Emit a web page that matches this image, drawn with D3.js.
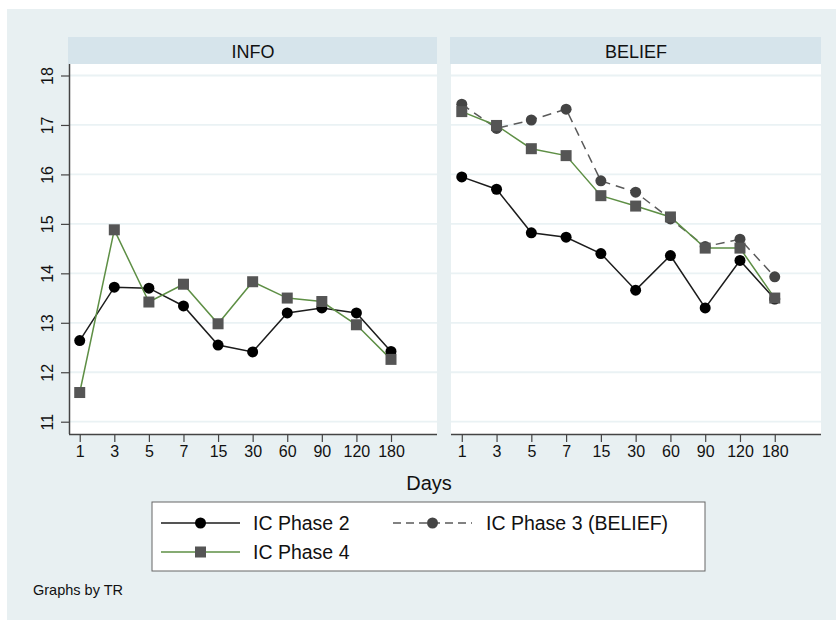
<!DOCTYPE html>
<html><head><meta charset="utf-8">
<script src="https://cdn.jsdelivr.net/npm/d3@7"></script>
<style>body{margin:0;background:#fff}svg{display:block;font-family:"Liberation Sans",Arial,sans-serif}</style>
</head><body><svg id="c" width="836" height="620"></svg>
<script>
const days = ["1","3","5","7","15","30","60","90","120","180"];
const yTicks = [11,12,13,14,15,16,17,18];
const panels = ["INFO","BELIEF"];
const info_phase2 = [12.64,13.72,13.70,13.34,12.55,12.41,13.20,13.30,13.20,12.42];
const info_phase4 = [11.59,14.88,13.42,13.78,12.98,13.83,13.50,13.43,12.96,12.26];
const belief_phase2 = [15.95,15.70,14.82,14.73,14.40,13.66,14.36,13.30,14.26,13.48];
const belief_phase3 = [17.42,16.93,17.10,17.32,15.87,15.64,15.10,14.54,14.69,13.93];
const belief_phase4 = [17.27,16.99,16.52,16.38,15.57,15.36,15.14,14.51,14.51,13.50];
const seriesNames = ["IC Phase 2","IC Phase 3 (BELIEF)","IC Phase 4"];

const svg = d3.select("#c");
svg.append("rect").attr("x",7).attr("y",9).attr("width",829).attr("height",611).attr("fill","#e8f0f2");

const y = d3.scaleLinear().domain([11,18]).range([421.7,75.5]);
const panelX = [[69,437],[451,821]];
const plotTop = 64, plotBottom = 434;

const styles = {
  p2:{line:"#1c1c1c",dash:null,marker:"circle",fill:"#000"},
  p3:{line:"#5a5a5a",dash:"9,6",marker:"circle",fill:"#444"},
  p4:{line:"#5e8f45",dash:null,marker:"square",fill:"#555"}
};
const panelSeries = [
  [["p2",info_phase2],["p4",info_phase4]],
  [["p2",belief_phase2],["p3",belief_phase3],["p4",belief_phase4]]
];

panels.forEach((name,pi)=>{
  const [x0,x1] = panelX[pi];
  const x = d3.scaleLinear().domain([-0.31,10.33]).range([x0,x1]);
  const g = svg.append("g");
  g.append("rect").attr("x",x0-1).attr("y",37).attr("width",x1-x0+1).attr("height",27).attr("fill","#d6e4eb");
  g.append("text").attr("x",(x0+x1)/2).attr("y",57.5).attr("text-anchor","middle").attr("font-size",18).attr("fill","#111").text(name);
  g.append("rect").attr("x",x0).attr("y",plotTop).attr("width",x1-x0).attr("height",plotBottom-plotTop).attr("fill","#fff");
  g.selectAll(".grid").data(yTicks).enter().append("line")
    .attr("x1",x0).attr("x2",x1).attr("y1",d=>y(d)).attr("y2",d=>y(d))
    .attr("stroke","#eaf2f4").attr("stroke-width",1.8);
  const xa = d3.axisBottom(x).tickValues(d3.range(10)).tickFormat(i=>days[i]).tickSize(8).tickPadding(4);
  const gx = g.append("g").attr("transform",`translate(0,${plotBottom})`).call(xa);
  gx.select(".domain").attr("d",`M${x0},0.5H${x1}`).attr("stroke","#444").attr("stroke-width",1.5);
  gx.selectAll(".tick line").attr("stroke","#444").attr("stroke-width",1.2);
  gx.selectAll(".tick text").attr("font-size",16).attr("fill","#111").attr("font-family","Liberation Sans, Arial, sans-serif");
  if(pi===0){
    const ya = d3.axisLeft(y).tickValues(yTicks).tickFormat(d3.format("d")).tickSize(8).tickPadding(4);
    const gy = g.append("g").attr("transform",`translate(${x0},0)`).call(ya);
    gy.select(".domain").attr("d",`M0.5,${plotTop}V${plotBottom}`).attr("stroke","#444").attr("stroke-width",1.5);
    gy.selectAll(".tick line").attr("stroke","#444").attr("stroke-width",1.2);
    gy.selectAll(".tick text").attr("font-size",16).attr("fill","#111").attr("font-family","Liberation Sans, Arial, sans-serif")
      .attr("text-anchor","middle").attr("x",null)
      .attr("transform","translate(-22,0) rotate(-90)").attr("dy","0.35em");
  }
  const line = d3.line().x((d,i)=>x(i)).y(d=>y(d));
  panelSeries[pi].forEach(([key,vals])=>{
    const st = styles[key];
    g.append("path").datum(vals).attr("d",line).attr("fill","none").attr("stroke",st.line)
      .attr("stroke-width",1.5).attr("stroke-dasharray",st.dash);
  });
  panelSeries[pi].forEach(([key,vals])=>{
    const st = styles[key];
    if(st.marker==="circle"){
      g.selectAll(null).data(vals).enter().append("circle").attr("cx",(d,i)=>x(i)).attr("cy",d=>y(d)).attr("r",5.5).attr("fill",st.fill);
    } else {
      g.selectAll(null).data(vals).enter().append("rect").attr("x",(d,i)=>x(i)-5.5).attr("y",d=>y(d)-5.5).attr("width",11).attr("height",11).attr("fill",st.fill);
    }
  });
});

svg.append("text").attr("x",429).attr("y",490).attr("text-anchor","middle").attr("font-size",20).attr("fill","#111").text("Days");

const lg = svg.append("g");
lg.append("rect").attr("x",152).attr("y",502).attr("width",553).attr("height",69).attr("fill","#fff").attr("stroke","#666").attr("stroke-width",1);
const items = [
  {key:"p2",x:161,y:523,tx:253},
  {key:"p3",x:393,y:523,tx:486},
  {key:"p4",x:161,y:552,tx:253}
];
const keyToName = {p2:seriesNames[0],p3:seriesNames[1],p4:seriesNames[2]};
items.forEach(it=>{
  const st = styles[it.key];
  lg.append("line").attr("x1",it.x).attr("x2",it.x+79).attr("y1",it.y).attr("y2",it.y).attr("stroke",st.line).attr("stroke-width",1.5).attr("stroke-dasharray",st.dash?"8,5":null);
  const cx = it.x+39.5;
  if(st.marker==="circle") lg.append("circle").attr("cx",cx).attr("cy",it.y).attr("r",5.5).attr("fill",st.fill);
  else lg.append("rect").attr("x",cx-5.5).attr("y",it.y-5.5).attr("width",11).attr("height",11).attr("fill",st.fill);
  lg.append("text").attr("x",it.tx).attr("y",it.y+7).attr("font-size",19.5).attr("fill","#111").text(keyToName[it.key]);
});
svg.append("text").attr("x",33).attr("y",595).attr("font-size",14.5).attr("fill","#111").text("Graphs by TR");
</script></body></html>
